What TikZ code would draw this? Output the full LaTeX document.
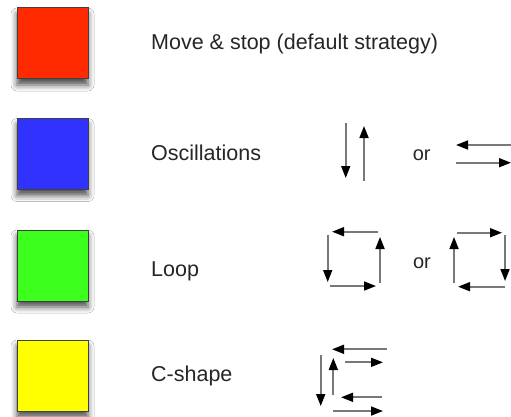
\documentclass[tikz,border=0pt]{standalone}
\usepackage{fontspec}
\setmainfont{Liberation Sans}
\usetikzlibrary{arrows.meta,shadows.blur}
\definecolor{swred}{RGB}{255,42,0}
\definecolor{swblue}{RGB}{50,50,255}
\definecolor{swgreen}{RGB}{60,255,30}
\definecolor{swyellow}{RGB}{255,255,0}
\definecolor{shaft}{RGB}{120,120,120}
\tikzset{
  swatch/.style={draw=black!75, line width=1pt, minimum size=71pt, inner sep=0pt,
    blur shadow={shadow xshift=0pt, shadow yshift=-6pt, shadow blur radius=6pt, shadow opacity=70}},
  label/.style={anchor=base west, inner sep=0pt, font=\fontsize{21.5}{26}\selectfont, text=black!85},
  ortext/.style={inner sep=0pt, font=\fontsize{20}{24}\selectfont, text=black!85},
  mv/.style={draw=shaft, line width=1.7pt, -{Triangle[length=12pt,width=9pt,black]}}
}
\begin{document}
\begin{tikzpicture}[x=1pt,y=-1pt]
\useasboundingbox (0,0) rectangle (511,417);
\fill[white] (0,0) rectangle (511,417);

% colour swatches
\node[swatch, fill=swred]    (sred)    at (52.5,43.5) {};
\node[swatch, fill=swblue]   (sblue)   at (52.5,154) {};
\node[swatch, fill=swgreen]  (sgreen)  at (52.5,265.5) {};
\node[swatch, fill=swyellow] (syellow) at (52.5,375.5) {};

% strategy names
\node[label] (lmove) at (151,50)  {Move \& stop (default strategy)};
\node[label] (losc)  at (151,160) {Oscillations};
\node[label] (lloop) at (151,276) {Loop};
\node[label] (lc)    at (151,381) {C-shape};

% oscillations
\draw[mv] (345.7,123) -- (345.7,178);
\draw[mv] (364,181) -- (364,126);
\node[ortext] (or1) at (421.7,155) {or};
\draw[mv] (511,145) -- (456,145);
\draw[mv] (456,162.7) -- (511,162.7);

% loop, counter-clockwise
\draw[mv] (378,231.7) -- (332,231.7);
\draw[mv] (327.7,235) -- (327.7,282);
\draw[mv] (330,286) -- (376,286);
\draw[mv] (380,283) -- (380,237);
\node[ortext] (or2) at (422,263) {or};
% loop, clockwise
\draw[mv] (454,283) -- (454,237);
\draw[mv] (457,232.7) -- (502,232.7);
\draw[mv] (505,235) -- (505,281);
\draw[mv] (505,286.7) -- (458,286.7);

% C-shape
\draw[mv] (387,349.3) -- (332,349.3);
\draw[mv] (345,362.3) -- (383,362.3);
\draw[mv] (320.7,355) -- (320.7,406);
\draw[mv] (333.3,395) -- (333.3,358);
\draw[mv] (382,397.3) -- (341,397.3);
\draw[mv] (333.3,411) -- (383,411);
\end{tikzpicture}
\end{document}
